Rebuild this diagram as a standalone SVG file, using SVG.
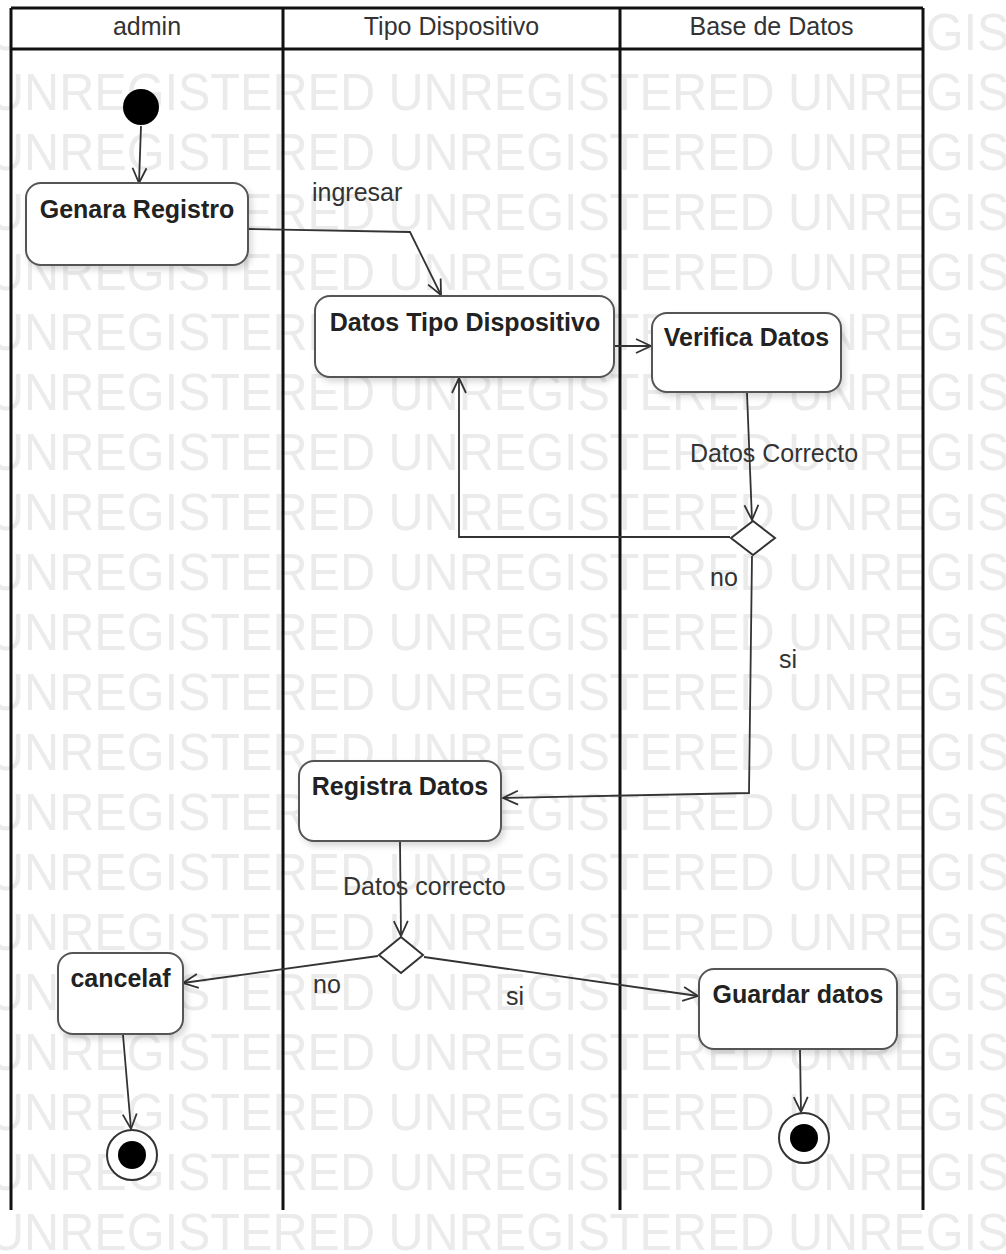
<svg xmlns="http://www.w3.org/2000/svg" width="1006" height="1254" viewBox="0 0 1006 1254">
<style>
.wm{font-family:"Liberation Sans",Arial,sans-serif;font-size:52px;fill:#ebebeb}
.lane{fill:none;stroke:#111;stroke-width:3}
.hdr{font-family:"Liberation Sans",Arial,sans-serif;font-size:25px;fill:#333;text-anchor:middle}
.node{fill:#fff;stroke:#555;stroke-width:2;filter:url(#sh)}
.nt{font-family:"Liberation Sans",Arial,sans-serif;font-size:25px;font-weight:bold;fill:#222;text-anchor:middle}
.lbl{font-family:"Liberation Sans",Arial,sans-serif;font-size:25px;fill:#333}
.cn{fill:none;stroke:#333;stroke-width:1.8;marker-end:url(#arr)}
.dia{fill:#fff;stroke:#333;stroke-width:2}
</style>
<defs>
<marker id="arr" markerUnits="userSpaceOnUse" markerWidth="18" markerHeight="18" refX="16" refY="8" orient="auto">
<path d="M1,1 L16,8 L1,15" fill="none" stroke="#333" stroke-width="1.8"/>
</marker>
<filter id="sh" x="-20%" y="-20%" width="150%" height="150%">
<feDropShadow dx="3" dy="4" stdDeviation="3" flood-color="#000" flood-opacity="0.15"/>
</filter>
</defs>
<rect x="0" y="0" width="1006" height="1254" fill="#fff"/>
<g id="watermark">
<text class="wm" x="-11" y="50" textLength="1185" lengthAdjust="spacingAndGlyphs">UNREGISTERED UNREGISTERED UNREGISTERED</text>
<text class="wm" x="-11" y="110" textLength="1185" lengthAdjust="spacingAndGlyphs">UNREGISTERED UNREGISTERED UNREGISTERED</text>
<text class="wm" x="-11" y="170" textLength="1185" lengthAdjust="spacingAndGlyphs">UNREGISTERED UNREGISTERED UNREGISTERED</text>
<text class="wm" x="-11" y="230" textLength="1185" lengthAdjust="spacingAndGlyphs">UNREGISTERED UNREGISTERED UNREGISTERED</text>
<text class="wm" x="-11" y="290" textLength="1185" lengthAdjust="spacingAndGlyphs">UNREGISTERED UNREGISTERED UNREGISTERED</text>
<text class="wm" x="-11" y="350" textLength="1185" lengthAdjust="spacingAndGlyphs">UNREGISTERED UNREGISTERED UNREGISTERED</text>
<text class="wm" x="-11" y="410" textLength="1185" lengthAdjust="spacingAndGlyphs">UNREGISTERED UNREGISTERED UNREGISTERED</text>
<text class="wm" x="-11" y="470" textLength="1185" lengthAdjust="spacingAndGlyphs">UNREGISTERED UNREGISTERED UNREGISTERED</text>
<text class="wm" x="-11" y="530" textLength="1185" lengthAdjust="spacingAndGlyphs">UNREGISTERED UNREGISTERED UNREGISTERED</text>
<text class="wm" x="-11" y="590" textLength="1185" lengthAdjust="spacingAndGlyphs">UNREGISTERED UNREGISTERED UNREGISTERED</text>
<text class="wm" x="-11" y="650" textLength="1185" lengthAdjust="spacingAndGlyphs">UNREGISTERED UNREGISTERED UNREGISTERED</text>
<text class="wm" x="-11" y="710" textLength="1185" lengthAdjust="spacingAndGlyphs">UNREGISTERED UNREGISTERED UNREGISTERED</text>
<text class="wm" x="-11" y="770" textLength="1185" lengthAdjust="spacingAndGlyphs">UNREGISTERED UNREGISTERED UNREGISTERED</text>
<text class="wm" x="-11" y="830" textLength="1185" lengthAdjust="spacingAndGlyphs">UNREGISTERED UNREGISTERED UNREGISTERED</text>
<text class="wm" x="-11" y="890" textLength="1185" lengthAdjust="spacingAndGlyphs">UNREGISTERED UNREGISTERED UNREGISTERED</text>
<text class="wm" x="-11" y="950" textLength="1185" lengthAdjust="spacingAndGlyphs">UNREGISTERED UNREGISTERED UNREGISTERED</text>
<text class="wm" x="-11" y="1010" textLength="1185" lengthAdjust="spacingAndGlyphs">UNREGISTERED UNREGISTERED UNREGISTERED</text>
<text class="wm" x="-11" y="1070" textLength="1185" lengthAdjust="spacingAndGlyphs">UNREGISTERED UNREGISTERED UNREGISTERED</text>
<text class="wm" x="-11" y="1130" textLength="1185" lengthAdjust="spacingAndGlyphs">UNREGISTERED UNREGISTERED UNREGISTERED</text>
<text class="wm" x="-11" y="1190" textLength="1185" lengthAdjust="spacingAndGlyphs">UNREGISTERED UNREGISTERED UNREGISTERED</text>
<text class="wm" x="-11" y="1250" textLength="1185" lengthAdjust="spacingAndGlyphs">UNREGISTERED UNREGISTERED UNREGISTERED</text>
</g>
<g id="lanes">
<rect x="11" y="8" width="912" height="41" fill="#fff" stroke="none"/>
<path class="lane" d="M11,8 H923 M11,49 H923 M11,8 V1210 M283,8 V1210 M620,8 V1210 M923,8 V1210"/>
<text class="hdr" x="147" y="35">admin</text>
<text class="hdr" x="451.5" y="35">Tipo Dispositivo</text>
<text class="hdr" x="771.5" y="35">Base de Datos</text>
</g>
<g id="connectors">
<path class="cn" d="M141,126 L139,183"/>
<path class="cn" d="M248,229 L410,232 L441,295"/>
<path class="cn" d="M615,346 L651,346"/>
<path class="cn" d="M747,393 L752,520"/>
<path class="cn" d="M730,537 L459,537 L459,378"/>
<path class="cn" d="M752,556 L749,793 L503,798"/>
<path class="cn" d="M400,842 L401,936"/>
<path class="cn" d="M378,956 L183,983"/>
<path class="cn" d="M424,957 L698,996"/>
<path class="cn" d="M123,1035 L131,1129"/>
<path class="cn" d="M800,1050 L801,1112"/>
<text class="lbl" x="312" y="201">ingresar</text>
<text class="lbl" x="690" y="462">Datos Correcto</text>
<text class="lbl" x="710" y="586">no</text>
<text class="lbl" x="779" y="668">si</text>
<text class="lbl" x="343" y="895">Datos correcto</text>
<text class="lbl" x="313" y="993">no</text>
<text class="lbl" x="506" y="1005">si</text>
</g>
<g id="start"><circle cx="141" cy="107" r="18" fill="#000"/></g>
<g id="genara-registro"><rect class="node" x="26" y="183" width="222" height="82" rx="15"/><text class="nt" x="137" y="218">Genara Registro</text></g>
<g id="datos-tipo-dispositivo"><rect class="node" x="315" y="296" width="299" height="81" rx="15"/><text class="nt" x="465" y="331">Datos Tipo Dispositivo</text></g>
<g id="verifica-datos"><rect class="node" x="652" y="313" width="189" height="79" rx="15"/><text class="nt" x="746.5" y="346">Verifica Datos</text></g>
<g id="decision-1"><polygon class="dia" points="753,521 775,538 753,555 731,538"/></g>
<g id="registra-datos"><rect class="node" x="299" y="761" width="202" height="80" rx="15"/><text class="nt" x="400" y="795">Registra Datos</text></g>
<g id="decision-2"><polygon class="dia" points="401,937 423,955 401,973 379,955"/></g>
<g id="cancelaf"><rect class="node" x="58" y="953" width="125" height="81" rx="15"/><text class="nt" x="120.5" y="987">cancelaf</text></g>
<g id="guardar-datos"><rect class="node" x="699" y="969" width="198" height="80" rx="15"/><text class="nt" x="798" y="1003">Guardar datos</text></g>
<g id="end-1"><circle cx="132" cy="1155" r="25" fill="#fff" stroke="#333" stroke-width="2"/><circle cx="132" cy="1155" r="14" fill="#000"/></g>
<g id="end-2"><circle cx="804" cy="1138" r="25" fill="#fff" stroke="#333" stroke-width="2"/><circle cx="804" cy="1138" r="14" fill="#000"/></g>
</svg>
